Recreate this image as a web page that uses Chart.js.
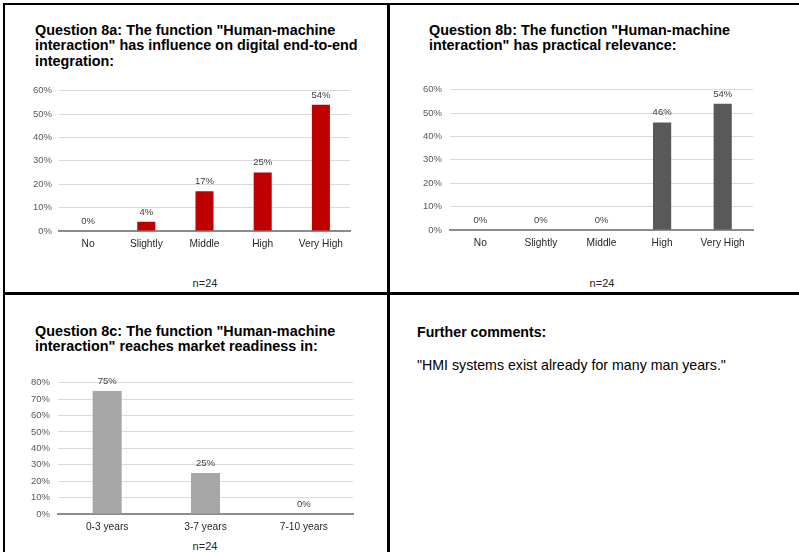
<!DOCTYPE html>
<html>
<head>
<meta charset="utf-8">
<script src="https://cdn.jsdelivr.net/npm/chart.js@4/dist/chart.umd.min.js"></script>
<style>
  body { margin: 0; width: 799px; height: 552px; background: #fff; position: relative; overflow: hidden;
         font-family: "Liberation Sans", Arial, sans-serif; }
  .rule { position: absolute; background: #000; }
  .title { position: absolute; font-weight: bold; font-size: 14.4px; line-height: 15.3px; color: #000; white-space: nowrap; }
  .n { position: absolute; font-size: 11px; color: #262626; transform: translateX(-50%); white-space: nowrap; }
  .plot { position: absolute; }
  .comment-head { position: absolute; left: 417px; top: 324px; font-weight: bold; font-size: 14.2px; color: #000; white-space: nowrap; }
  .comment { position: absolute; left: 417px; top: 357px; font-size: 14.2px; color: #000; white-space: nowrap; }
</style>
</head>
<body>
  <!-- panel frame -->
  <div class="rule" style="left:3px;top:3px;width:796px;height:2px"></div>
  <div class="rule" style="left:3px;top:3px;width:2px;height:549px"></div>
  <div class="rule" style="left:387px;top:3px;width:3px;height:549px"></div>
  <div class="rule" style="left:3px;top:292px;width:796px;height:3px"></div>

  <div class="title" style="left:35px;top:23px">Question 8a: The function "Human-machine<br>interaction" has influence on digital end-to-end<br>integration:</div>
  <canvas id="chartA" class="plot" style="left:20px;top:78px" width="340" height="177"></canvas>
  <div class="n" style="left:205px;top:277px">n=24</div>

  <div class="title" style="left:429px;top:23px">Question 8b: The function "Human-machine<br>interaction" has practical relevance:</div>
  <canvas id="chartB" class="plot" style="left:410px;top:76px" width="353" height="178"></canvas>
  <div class="n" style="left:602px;top:277px">n=24</div>

  <div class="title" style="left:35px;top:324px">Question 8c: The function "Human-machine<br>interaction" reaches market readiness in:</div>
  <canvas id="chartC" class="plot" style="left:18px;top:369px" width="345" height="169"></canvas>
  <div class="n" style="left:205px;top:540px">n=24</div>

  <div class="comment-head">Further comments:</div>
  <div class="comment">"HMI systems exist already for many man years."</div>

<script>
// Answer categories and shares (percent of respondents)
const levelCategories = ['No', 'Slightly', 'Middle', 'High', 'Very High'];
const influenceValues = [0, 4, 17, 25, 54];
const relevanceValues = [0, 0, 0, 46, 54];
const readinessCategories = ['0-3 years', '3-7 years', '7-10 years'];
const readinessValues = [75, 25, 0];

const FONT = '"Liberation Sans", Arial, sans-serif';

// Writes each bar's percentage just above it
const valueLabels = {
  id: 'valueLabels',
  afterDatasetsDraw(chart) {
    const ctx = chart.ctx;
    const meta = chart.getDatasetMeta(0);
    const values = chart.data.datasets[0].data;
    ctx.save();
    ctx.font = '9.5px ' + FONT;
    ctx.fillStyle = '#404040';
    ctx.textAlign = 'center';
    ctx.textBaseline = 'bottom';
    meta.data.forEach((bar, i) => {
      ctx.fillText(values[i] + '%', bar.x, bar.y - 5);
    });
    ctx.restore();
  }
};

function barChart(id, categories, values, color, yMax, barShare, yAxisWidth, yPad, xPad) {
  return new Chart(document.getElementById(id), {
    type: 'bar',
    data: {
      labels: categories,
      datasets: [{
        data: values,
        backgroundColor: color,
        borderWidth: 0,
        categoryPercentage: 1,
        barPercentage: barShare
      }]
    },
    options: {
      responsive: false,
      animation: false,
      layout: { padding: { top: 10, right: 10, left: 0, bottom: 0 } },
      plugins: { legend: { display: false }, tooltip: { enabled: false } },
      scales: {
        x: {
          grid: { display: false, drawTicks: false },
          border: { display: true, color: '#8c8c8c', width: 2 },
          ticks: { color: '#262626', font: { family: FONT, size: 10.2 }, padding: xPad, maxRotation: 0 },
          afterFit(scale) { scale.height = 24; }
        },
        y: {
          min: 0,
          max: yMax,
          grid: {
            drawTicks: false,
            color: ctx => (ctx.tick && ctx.tick.value === 0) ? 'rgba(0,0,0,0)' : '#d9d9d9',
            lineWidth: 1
          },
          border: { display: false },
          ticks: {
            stepSize: 10,
            color: '#595959',
            font: { family: FONT, size: 9.5 },
            padding: yPad,
            callback: v => v + '%'
          },
          afterFit(scale) { scale.width = yAxisWidth; }
        }
      }
    },
    plugins: [valueLabels]
  });
}

barChart('chartA', levelCategories, influenceValues, '#c00000', 60, 0.31, 39, 7, 7);
barChart('chartB', levelCategories, relevanceValues, '#595959', 60, 0.30, 40, 8, 7);
barChart('chartC', readinessCategories, readinessValues, '#a6a6a6', 80, 0.295, 40, 8, 7);
</script>
</body>
</html>
